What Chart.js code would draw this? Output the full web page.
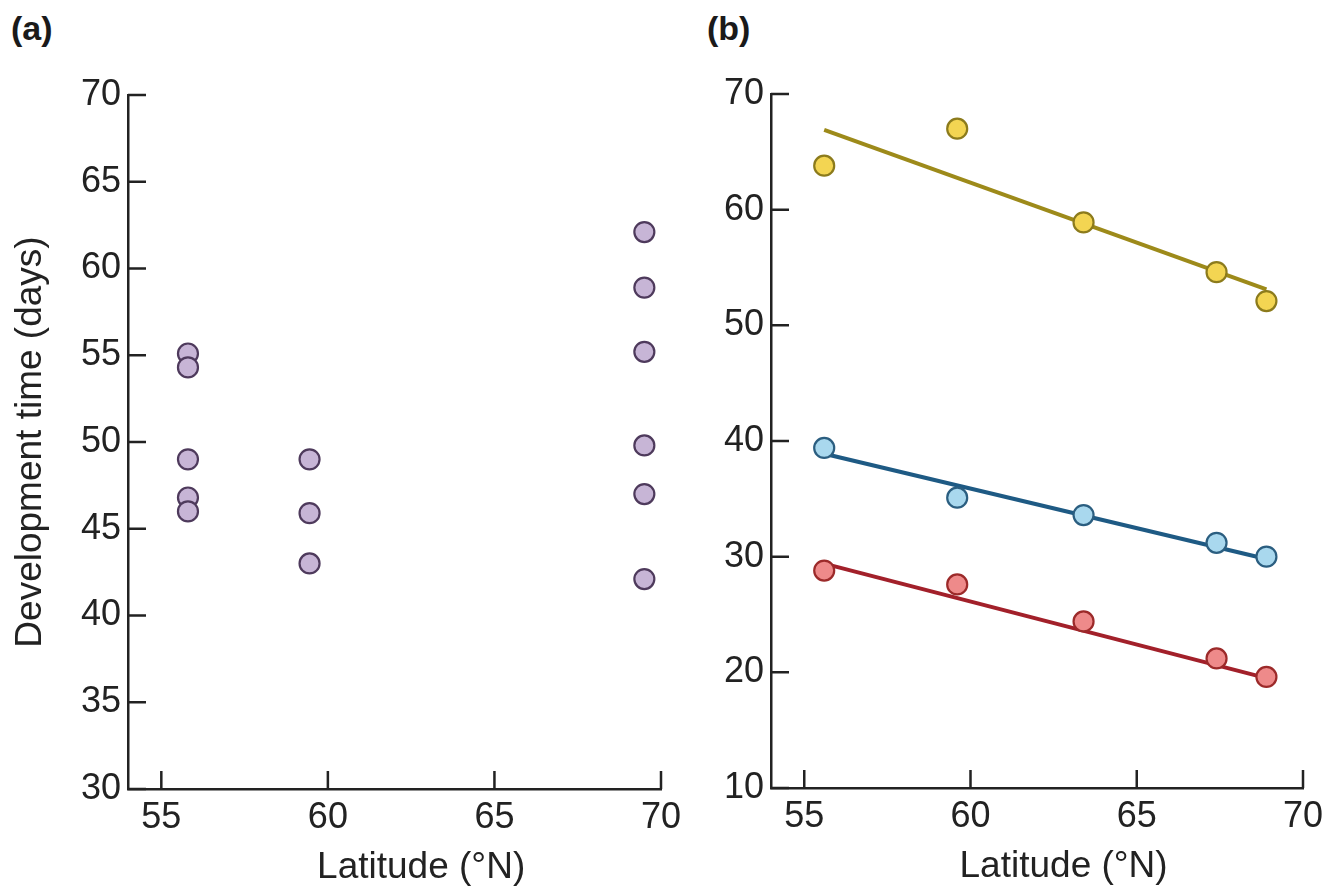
<!DOCTYPE html>
<html lang="en">
<head>
    <meta charset="UTF-8">
    <title>Development time vs latitude</title>
    <script src="https://cdn.jsdelivr.net/npm/chart.js"></script>
    <style>
        body { margin: 0; background: #fff; width: 1340px; height: 887px; position: relative; overflow: hidden; }
        .panel-tag { position: absolute; top: 9px; font: bold 34px "Liberation Sans", Arial, sans-serif; color: #1a1a1a; }
        canvas { position: absolute; top: 0; }
    </style>
</head>
<body>
    <div class="panel-tag" style="left:11px">(a)</div>
    <div class="panel-tag" style="left:707px">(b)</div>
    <canvas id="chartA" width="700" height="887" style="left:0"></canvas>
    <canvas id="chartB" width="640" height="887" style="left:700px"></canvas>

    <script>
    // panel (a): all individuals
    const latA = [55.8, 55.8, 55.8, 55.8, 55.8, 59.45, 59.45, 59.45, 69.5, 69.5, 69.5, 69.5, 69.5, 69.5];
    const devA = [55.1, 54.3, 49.0, 46.8, 46.0, 49.0, 45.9, 43.0, 62.1, 58.9, 55.2, 49.8, 47.0, 42.1];

    // panel (b): three groups + fitted lines
    const latB = [55.6, 59.6, 63.4, 67.4, 68.9];
    const devYellow = [63.8, 67.0, 58.9, 54.6, 52.1];
    const devBlue = [39.4, 35.1, 33.6, 31.2, 30.0];
    const devRed = [28.8, 27.6, 24.4, 21.2, 19.6];
    const fitLat = [55.6, 68.9];
    const fitYellow = [66.9, 53.1];
    const fitBlue = [38.9, 29.8];
    const fitRed = [29.4, 19.5];

    const xTicks = [55, 60, 65, 70];
    const yTicksA = [30, 35, 40, 45, 50, 55, 60, 65, 70];
    const yTicksB = [10, 20, 30, 40, 50, 60, 70];
    const xTitle = 'Latitude (°N)';
    const yTitle = 'Development time (days)';

    Chart.defaults.font.family = '"Liberation Sans", Arial, sans-serif';
    Chart.defaults.font.size = 36;
    Chart.defaults.color = '#222';

    const pts = (xs, ys) => xs.map((x, i) => ({ x: x, y: ys[i] }));

    // ticks point inward and the x title sits under the tick range
    const innerTicks = {
        id: 'innerTicks',
        afterDraw(chart) {
            const { ctx, chartArea, scales: { x, y } } = chart;
            ctx.save();
            ctx.strokeStyle = '#222';
            ctx.lineWidth = 2.5;
            ctx.beginPath();
            x.ticks.forEach(t => {
                const px = x.getPixelForValue(t.value);
                ctx.moveTo(px, chartArea.bottom);
                ctx.lineTo(px, chartArea.bottom - 18);
            });
            y.ticks.forEach(t => {
                const py = y.getPixelForValue(t.value);
                ctx.moveTo(chartArea.left, py);
                ctx.lineTo(chartArea.left + 18, py);
            });
            ctx.stroke();
            ctx.font = '37px "Liberation Sans", Arial, sans-serif';
            ctx.fillStyle = '#222';
            ctx.textAlign = 'center';
            ctx.textBaseline = 'middle';
            ctx.fillText(xTitle, x.getPixelForValue(62.8), chartArea.bottom + 79);
            ctx.restore();
        }
    };

    function axes(yMin, yMax, yTicks, yWidth, xHeight, showTitle) {
        return {
            x: {
                type: 'linear', min: 54, max: 70,
                afterBuildTicks: s => { s.ticks = xTicks.map(v => ({ value: v })); },
                afterFit: s => { s.height = xHeight; },
                grid: { drawOnChartArea: false, drawTicks: false },
                border: { display: true, color: '#222', width: 2.5 },
                ticks: { padding: 7, color: '#222' }
            },
            y: {
                type: 'linear', min: yMin, max: yMax,
                afterBuildTicks: s => { s.ticks = yTicks.map(v => ({ value: v })); },
                afterFit: s => { s.width = yWidth; },
                grid: { drawOnChartArea: false, drawTicks: false },
                border: { display: true, color: '#222', width: 2.5 },
                ticks: { padding: 7, color: '#222' },
                title: { display: showTitle, text: yTitle, color: '#222', font: { size: 37 }, padding: { top: 9, bottom: 0 } }
            }
        };
    }

    const common = {
        responsive: false,
        animation: false,
        events: [],
        plugins: { legend: { display: false }, tooltip: { enabled: false } }
    };

    new Chart(document.getElementById('chartA'), {
        type: 'scatter',
        data: {
            datasets: [{
                data: pts(latA, devA),
                backgroundColor: '#c7b5d6',
                borderColor: '#4e3a5c',
                borderWidth: 2.2,
                pointRadius: 10
            }]
        },
        options: Object.assign({}, common, {
            layout: { padding: { top: 95, right: 39, left: 0, bottom: 0 } },
            scales: axes(30, 70, yTicksA, 128, 98, true)
        }),
        plugins: [innerTicks]
    });

    const dot = (ys, fill, edge) => ({
        data: pts(latB, ys), backgroundColor: fill, borderColor: edge,
        borderWidth: 2.2, pointRadius: 10, showLine: false
    });
    const fit = (ys, colour) => ({
        data: pts(fitLat, ys), borderColor: colour, borderWidth: 4,
        pointRadius: 0, showLine: true
    });

    new Chart(document.getElementById('chartB'), {
        type: 'scatter',
        data: {
            datasets: [
                dot(devYellow, '#f3d552', '#8c7b1c'),
                dot(devBlue, '#a9d8ee', '#2b5e80'),
                dot(devRed, '#ee8a8a', '#9c2a2a'),
                fit(fitYellow, '#9d8a1a'),
                fit(fitBlue, '#1e5a84'),
                fit(fitRed, '#a2202a')
            ]
        },
        options: Object.assign({}, common, {
            layout: { padding: { top: 94, right: 37, left: 0, bottom: 0 } },
            scales: axes(10, 70, yTicksB, 71, 99, false)
        }),
        plugins: [innerTicks]
    });
    </script>
</body>
</html>
